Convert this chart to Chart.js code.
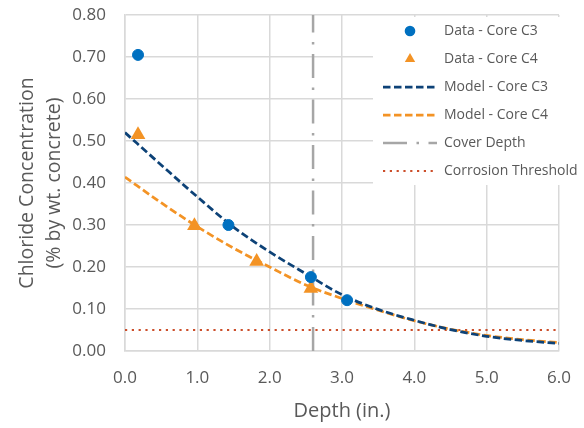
<!DOCTYPE html>
<html>
<head>
<meta charset="utf-8">
<script src="https://cdn.jsdelivr.net/npm/chart.js@4.4.1/dist/chart.umd.min.js"></script>
<style>
	html, body { margin: 0; padding: 0; background: #fff; }
</style>
</head>
<body>
<canvas id="myChart" width="584" height="428"></canvas>
<script>
// measured data, depth in inches
const depthC3 = [0.18, 1.43, 2.57, 3.07];
const chlorideC3 = [0.705, 0.30, 0.176, 0.121];
const depthC4 = [0.18, 0.96, 1.82, 2.57];
const chlorideC4 = [0.515, 0.298, 0.213, 0.149];

// model curves
const modelDepth = [0, 0.5, 1, 1.5, 2, 2.5, 3, 3.5, 4, 4.5, 5, 5.5, 6];
const modelC3 = [0.52, 0.443, 0.367, 0.295, 0.236, 0.184, 0.134, 0.099, 0.073, 0.051, 0.035, 0.025, 0.018];
const modelC4 = [0.414, 0.353, 0.296, 0.245, 0.2, 0.157, 0.125, 0.097, 0.072, 0.052, 0.037, 0.027, 0.02];

const coverDepth = 2.6;
const threshold = 0.05;

const toPoints = (xs, ys) => xs.map((x, i) => ({ x, y: ys[i] }));

const FONT = "'Open Sans', 'Noto Sans', sans-serif";
const TEXT = "#595959";
const GRID = "#d9d9d9";

// legend drawn over the plot like in excel
const overlayLegend = {
	id: "overlayLegend",
	afterDraw(chart) {
		const { ctx } = chart;
		ctx.save();
		ctx.fillStyle = "#fff";
		ctx.fillRect(373, 17, 211, 168);
		ctx.font = "14px " + FONT;
		ctx.textBaseline = "middle";
		ctx.textAlign = "left";
		chart.data.datasets.forEach((ds, i) => {
			const y = 31 + i * 28;
			if (ds.showLine === false) {
				ctx.fillStyle = ds.backgroundColor;
				ctx.beginPath();
				if (ds.pointStyle === "triangle") {
					const r = 6;
					ctx.moveTo(410, y - r);
					ctx.lineTo(410 + 0.866 * r, y + 0.5 * r);
					ctx.lineTo(410 - 0.866 * r, y + 0.5 * r);
					ctx.closePath();
				} else {
					ctx.arc(410, y, 5.3, 0, Math.PI * 2);
				}
				ctx.fill();
			} else {
				ctx.strokeStyle = ds.borderColor;
				ctx.lineWidth = ds.borderWidth;
				ctx.setLineDash(ds.borderDash || []);
				ctx.beginPath();
				ctx.moveTo(383, y);
				ctx.lineTo(437, y);
				ctx.stroke();
				ctx.setLineDash([]);
			}
			ctx.fillStyle = TEXT;
			ctx.fillText(ds.label, 444, y + 0.5);
		});
		ctx.restore();
	},
};

const ctx = document.getElementById("myChart");

new Chart(ctx, {
	type: "scatter",
	data: {
		datasets: [
			{
				label: "Data - Core C3",
				data: toPoints(depthC3, chlorideC3),
				showLine: false,
				pointStyle: "circle",
				pointRadius: 5.5,
				borderWidth: 1,
				backgroundColor: "#0070C0",
				borderColor: "#0070C0",
			},
			{
				label: "Data - Core C4",
				data: toPoints(depthC4, chlorideC4),
				showLine: false,
				pointStyle: "triangle",
				pointRadius: 8.5,
				borderWidth: 0,
				backgroundColor: "#F39325",
				borderColor: "#F39325",
			},
			{
				label: "Model - Core C3",
				data: toPoints(modelDepth, modelC3),
				showLine: true,
				pointRadius: 0,
				borderColor: "#0D4277",
				borderWidth: 2.75,
				borderDash: [7.5, 3.5],
				cubicInterpolationMode: "monotone",
			},
			{
				label: "Model - Core C4",
				data: toPoints(modelDepth, modelC4),
				showLine: true,
				pointRadius: 0,
				borderColor: "#F39325",
				borderWidth: 2.75,
				borderDash: [7.5, 3.5],
				cubicInterpolationMode: "monotone",
			},
			{
				label: "Cover Depth",
				data: [{ x: coverDepth, y: 0 }, { x: coverDepth, y: 0.8 }],
				showLine: true,
				pointRadius: 0,
				borderColor: "#A6A6A6",
				borderWidth: 2.5,
				borderDash: [24, 9.5, 2.5, 9.5],
			},
			{
				label: "Corrosion Threshold",
				data: [{ x: 0, y: threshold }, { x: 6, y: threshold }],
				showLine: true,
				pointRadius: 0,
				borderColor: "#CC4E2A",
				borderWidth: 2.2,
				borderDash: [2.2, 4.6],
			},
		],
	},
	options: {
		responsive: false,
		animation: false,
		layout: { padding: { top: 15, right: 25, bottom: 0, left: 0 } },
		plugins: {
			legend: { display: false },
			tooltip: { enabled: false },
		},
		scales: {
			x: {
				type: "linear",
				min: 0,
				max: 6,
				afterFit: (s) => { s.height = 77; },
				grid: { color: GRID, lineWidth: 1.5, tickLength: 17, tickColor: "rgba(0,0,0,0)" },
				border: { color: GRID, width: 1.5 },
				ticks: {
					stepSize: 1,
					padding: 0,
					color: TEXT,
					font: { family: FONT, size: 17 },
					callback: (v) => v.toFixed(1),
				},
				title: {
					display: true,
					text: "Depth (in.)",
					color: TEXT,
					font: { family: FONT, size: 20 },
					padding: { top: 0, bottom: 5 },
				},
			},
			y: {
				min: 0,
				max: 0.8,
				afterFit: (s) => { s.width = 125; },
				grid: { color: GRID, lineWidth: 1.5, tickLength: 19, tickColor: "rgba(0,0,0,0)" },
				border: { color: GRID, width: 1.5 },
				ticks: {
					stepSize: 0.1,
					padding: 0,
					color: TEXT,
					font: { family: FONT, size: 17 },
					callback: (v) => v.toFixed(2),
				},
				title: {
					display: true,
					text: ["Chloride Concentration", "(% by wt. concrete)"],
					color: TEXT,
					font: { family: FONT, size: 19.5, lineHeight: 1.4 },
					padding: { top: 13.5, bottom: 0 },
				},
			},
		},
	},
	plugins: [overlayLegend],
});
</script>
</body>
</html>
